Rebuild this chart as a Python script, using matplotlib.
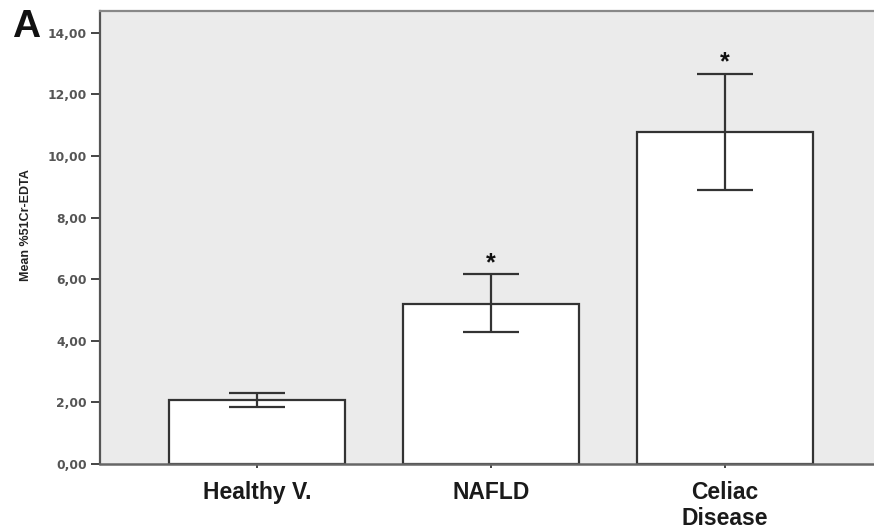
import matplotlib
matplotlib.use("Agg")
import matplotlib.pyplot as plt

categories = ["Healthy V.", "NAFLD", "Celiac\nDisease"]
means = [2.08, 5.21, 10.78]
err_low = [1.86, 4.30, 8.89]
err_high = [2.31, 6.16, 12.67]
significant = [False, True, True]
yticks = [0, 2, 4, 6, 8, 10, 12, 14]
ytick_labels = ["0,00", "2,00", "4,00", "6,00", "8,00", "10,00", "12,00", "14,00"]

plt.rcParams["font.family"] = ["Liberation Sans", "DejaVu Sans"]

fig = plt.figure(figsize=(8.74, 5.31), dpi=100)
ax = fig.add_axes([0.1144, 0.1262, 0.8856, 0.8531])
ax.set_facecolor("#ebebeb")

x = list(range(len(categories)))
ax.bar(x, means, width=0.752, color="white", edgecolor="#333333", linewidth=1.6, zorder=2)

yerr = [[m - lo for m, lo in zip(means, err_low)],
        [hi - m for m, hi in zip(means, err_high)]]
ax.errorbar(x, means, yerr=yerr, fmt="none", ecolor="#333333", elinewidth=1.6,
            capsize=20, capthick=1.6, zorder=3)

for xi, hi, sig in zip(x, err_high, significant):
    if sig:
        ax.text(xi, hi - 0.02, "*", ha="center", va="bottom", fontsize=18,
                fontweight="bold", color="#111111")

ax.set_xlim(-0.671, 2.637)
ax.set_ylim(0, 14.71)
ax.set_yticks(yticks)
ax.set_yticklabels(ytick_labels, fontsize=8.8, fontweight="bold", color="#555555",
                   family="DejaVu Sans")
ax.set_xticks(x)
ax.set_xticklabels(categories, fontsize=16.5, fontweight="bold", color="#1a1a1a",
                   linespacing=1.18, va="top")
ax.tick_params(axis="y", length=6.5, width=1.4, color="#444444", pad=3)
ax.tick_params(axis="x", length=3, width=1.4, color="#444444", pad=9)

ax.set_ylabel("Mean %51Cr-EDTA", fontsize=9, fontweight="bold", color="#222222")
ax.yaxis.set_label_coords(-0.088, 0.528)

ax.spines["right"].set_visible(False)
ax.spines["left"].set_color("#555555")
ax.spines["left"].set_linewidth(1.6)
ax.spines["bottom"].set_color("#666666")
ax.spines["bottom"].set_linewidth(1.8)
ax.spines["top"].set_color("#888888")
ax.spines["top"].set_linewidth(1.6)

fig.text(0.014, 0.930, "A", fontsize=28, fontweight="bold", color="#111111",
         ha="left", va="baseline")

fig.savefig("out.png", dpi=100)
